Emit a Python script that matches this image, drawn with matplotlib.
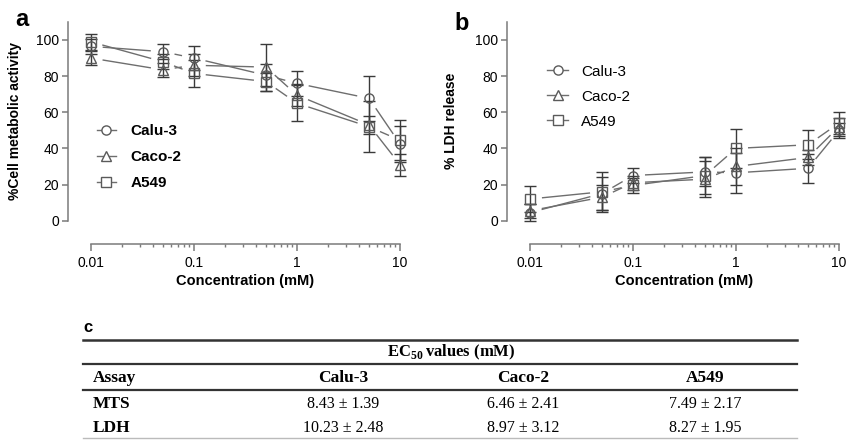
import numpy as np
import matplotlib
matplotlib.use("Agg")
import matplotlib.pyplot as plt
from matplotlib.lines import Line2D
from matplotlib.ticker import FixedLocator, LogLocator, NullFormatter

plt.rcParams['font.family'] = ['Liberation Sans', 'DejaVu Sans']
plt.rcParams['mathtext.fontset'] = 'custom'
plt.rcParams['mathtext.rm'] = 'Liberation Serif'
plt.rcParams['mathtext.bf'] = 'Liberation Serif:bold'

# concentrations (mM)
conc = [0.01, 0.05, 0.1, 0.5, 1, 5, 10]
cell_lines = ["Calu-3", "Caco-2", "A549"]
markers = ["o", "^", "s"]

# panel a: % cell metabolic activity (MTS)
mts_calu3 = [96.5, 93.5, 90.0, 80.5, 76.0, 67.7, 42.5]
mts_calu3_err = [4, 4, 6.5, 6, 7, 12.5, 10]
mts_caco2 = [90.0, 83.5, 86.0, 85.0, 69.5, 53.0, 31.0]
mts_caco2_err = [4, 4, 6, 13, 6, 5, 6]
mts_a549 = [99.0, 88.0, 81.5, 77.0, 65.0, 52.0, 44.5]
mts_a549_err = [4.5, 4, 7.5, 5, 10, 14, 11]

# panel b: % LDH release
ldh_calu3 = [4.5, 15.0, 25.0, 27.0, 26.5, 29.0, 50.0]
ldh_calu3_err = [4.5, 9, 4, 8, 11, 8, 4]
ldh_caco2 = [5.5, 13.0, 21.0, 23.0, 30.0, 35.0, 52.0]
ldh_caco2_err = [4, 7, 4, 10, 10, 4, 5]
ldh_a549 = [12.0, 16.0, 19.5, 25.0, 40.0, 42.0, 54.0]
ldh_a549_err = [7, 11, 4, 10, 11, 8, 6]

# panel c: EC50 table
table_cols = ["Assay", "Calu-3", "Caco-2", "A549"]
table_rows = [
    ["MTS", "8.43 \u00b1 1.39", "6.46 \u00b1 2.41", "7.49 \u00b1 2.17"],
    ["LDH", "10.23 \u00b1 2.48", "8.97 \u00b1 3.12", "8.27 \u00b1 1.95"],
]

W, H = 848, 440
LINE_C = "#6e6e6e"
MARK_C = "#5a5a5a"
ERR_C = "#3a3a3a"
AX_C = "#7a7a7a"


def fx(px):
    return px / W


def fy(py):
    return 1 - py / H


def setup_axes(ax, ylabel, ylab_x):
    ax.set_xscale("log")
    ax.set_xlim(0.01, 10)
    ax.set_ylim(0, 110)
    for s in ["top", "right"]:
        ax.spines[s].set_visible(False)
    for s in ["left", "bottom"]:
        ax.spines[s].set_position(("outward", 16.5))
        ax.spines[s].set_color(AX_C)
        ax.spines[s].set_linewidth(1.1)
    ax.yaxis.set_major_locator(FixedLocator([0, 20, 40, 60, 80, 100]))
    ax.xaxis.set_major_locator(FixedLocator([0.01, 0.1, 1, 10]))
    ax.xaxis.set_minor_locator(LogLocator(base=10, subs=np.arange(2, 10)))
    ax.xaxis.set_minor_formatter(NullFormatter())
    ax.set_xticklabels(["0.01", "0.1", "1", "10"])
    ax.tick_params(axis="both", which="major", length=4.5, width=1.1,
                   color=AX_C, labelsize=10, pad=2)
    ax.tick_params(axis="x", which="major", length=5, pad=4)
    ax.tick_params(axis="x", which="minor", length=2.5, width=1.0, color=AX_C)
    ax.set_xlabel("Concentration (mM)", fontsize=10.5, fontweight="bold", labelpad=3)
    ax.set_ylabel(ylabel, fontsize=10, fontweight="bold")
    ax.yaxis.set_label_coords(ylab_x, 0.5)
    ax.patch.set_alpha(0)


def gapped_line(ax, xs, ys, gap=12):
    # Prism style: connecting segments stop short of the markers
    pts = ax.transData.transform(np.column_stack([xs, ys]))
    inv = ax.transData.inverted()
    for p0, p1 in zip(pts[:-1], pts[1:]):
        d = p1 - p0
        L = np.hypot(*d)
        if L <= 2 * gap + 1:
            continue
        u = d / L
        a = inv.transform(p0 + u * gap)
        b = inv.transform(p1 - u * gap)
        ax.plot([a[0], b[0]], [a[1], b[1]], color=LINE_C, lw=1.0,
                solid_capstyle="butt", clip_on=False)


def draw_panel(ax, series, errs):
    for vals, err, m in zip(series, errs, markers):
        ax.errorbar(conc, vals, yerr=err, fmt="none", ecolor=ERR_C,
                    elinewidth=1.0, capsize=4.2, capthick=1.0, clip_on=False)
    for vals, m in zip(series, markers):
        gapped_line(ax, conc, vals)
        ax.plot(conc, vals, linestyle="none", marker=m, markersize=6.6,
                markerfacecolor="none", markeredgecolor=MARK_C,
                markeredgewidth=1.0, clip_on=False)


fig = plt.figure(figsize=(W / 100, H / 100), dpi=100)

ax_a = fig.add_axes([fx(90.7), fy(220.7), (400 - 90.7) / W, (220.7 - 21.9) / H])
ax_b = fig.add_axes([fx(530), fy(220.7), (839 - 530) / W, (220.7 - 21.9) / H])

setup_axes(ax_a, "%Cell metabolic activity", -0.222)
setup_axes(ax_b, "% LDH release", -0.233)

draw_panel(ax_a, [mts_calu3, mts_caco2, mts_a549],
           [mts_calu3_err, mts_caco2_err, mts_a549_err])
draw_panel(ax_b, [ldh_calu3, ldh_caco2, ldh_a549],
           [ldh_calu3_err, ldh_caco2_err, ldh_a549_err])

handles = [Line2D([], [], color=LINE_C, lw=1.0, marker=m, markersize=6.6,
                  markerfacecolor="white", markeredgecolor=MARK_C,
                  markeredgewidth=1.0) for m in markers]
leg_a = ax_a.legend(handles, cell_lines, loc="upper left",
                    bbox_to_anchor=(0.02, 0.485), frameon=False,
                    prop={"weight": "bold", "size": 11}, handlelength=1.25,
                    handletextpad=0.95, labelspacing=0.78, borderpad=0,
                    borderaxespad=0)
leg_b = ax_b.legend(handles, cell_lines, loc="upper left",
                    bbox_to_anchor=(0.055, 0.785), frameon=False,
                    prop={"size": 11}, handlelength=1.4,
                    handletextpad=0.85, labelspacing=0.72, borderpad=0,
                    borderaxespad=0)

fig.text(fx(22), fy(20), "a", fontsize=17, fontweight="bold", ha="center", va="center")
fig.text(fx(462), fy(23), "b", fontsize=17, fontweight="bold", ha="center", va="center")
fig.text(fx(88), fy(327), "c", fontsize=12, fontweight="bold", ha="center", va="center")

# table (panel c)
x0, x1 = 83, 797
for yl, lw, c in [(339.5, 1.8, "#333333"), (364, 1.6, "#333333"),
                  (390, 1.6, "#333333"), (438, 1.0, "#bbbbbb")]:
    fig.add_artist(Line2D([fx(x0), fx(x1)], [fy(yl), fy(yl)], lw=lw, color=c))

serif = "Liberation Serif"
fig.text(fx(451), fy(352), r"EC$_{\mathbf{50}}\,$values (mM)", family=serif,
         fontsize=12, fontweight="bold", ha="center", va="center")
col_x = [93, 343, 523, 705]
for i, name in enumerate(table_cols):
    fig.text(fx(col_x[i]), fy(378), name, family=serif, fontsize=12.5,
             fontweight="bold", ha="left" if i == 0 else "center", va="center")
for r, row in enumerate(table_rows):
    yr = [404, 428][r]
    for i, val in enumerate(row):
        fig.text(fx(col_x[i]), fy(yr), val, family=serif,
                 fontsize=12.5 if i == 0 else 11.5,
                 fontweight="bold" if i == 0 else "normal",
                 ha="left" if i == 0 else "center", va="center")

fig.savefig("out.png", dpi=100)
